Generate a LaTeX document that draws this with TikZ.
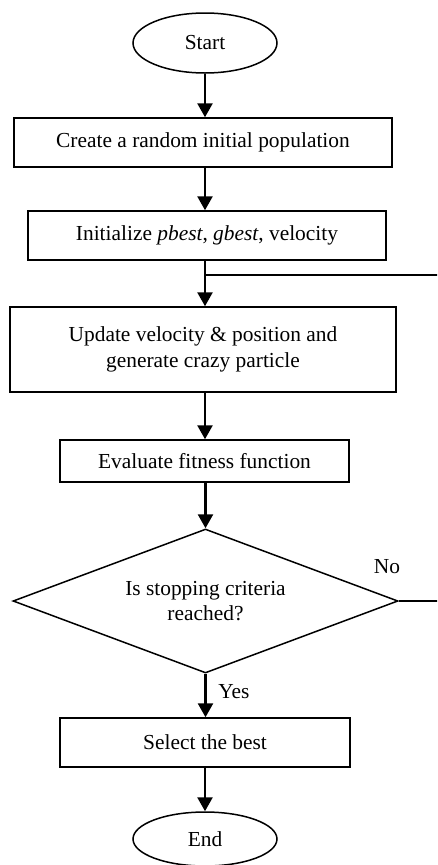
\documentclass[tikz,border=0pt]{standalone}
\usepackage{fontspec}
\setmainfont{Liberation Serif}
\usetikzlibrary{shapes.geometric,arrows.meta}
\begin{document}
\begin{tikzpicture}[x=1pt,y=-1pt,
  font=\fontsize{21.4}{25.5}\selectfont,
  box/.style={draw,line width=1.5pt,rectangle,inner sep=0pt,align=center},
  term/.style={draw,line width=1.5pt,ellipse,inner sep=0pt},
  dec/.style={draw,line width=1.5pt,diamond,inner sep=0pt},
  arr/.style={line width=2.6pt,-{Triangle[width=15pt,length=14pt]}},
  ln/.style={line width=1.6pt}]
\useasboundingbox (0,0) rectangle (437,865);
\clip (0,0) rectangle (437,865);
\node[term,minimum width=144pt,minimum height=60pt] (start) at (205,43) {Start};
\node[box,minimum width=378pt,minimum height=49pt] (b1) at (203,142.5) {Create a random initial population};
\node[box,minimum width=358pt,minimum height=49pt] (b2) at (207,235.5) {Initialize \textit{pbest}, \textit{gbest}, velocity};
\node[box,minimum width=386pt,minimum height=85pt] (b3) at (203,349.5) {Update velocity \& position and\\generate crazy particle};
\node[box,minimum width=289pt,minimum height=42pt] (b4) at (204.5,461) {Evaluate fitness function};
\node[dec,minimum width=385pt,minimum height=144pt] (d) at (205.5,601) {};
\node[align=center,inner sep=0pt] (dtext) at (d.center) {Is stopping criteria\\reached?};
\node[box,minimum width=290pt,minimum height=49pt] (b5) at (205,742.5) {Select the best};
\node[term,minimum width=144pt,minimum height=54pt] (end) at (205,839) {End};
\coordinate (join) at (205,275);
\node (no) at (387,567) {No};
\node (yes) at (234,692) {Yes};
\draw[arr] (start) -- (b1.north -| start);
\draw[arr] (b1.south -| start) -- (b2.north -| start);
\draw[arr] (b2.south -| join) -- (b3.north -| join);
\draw[arr] (b3.south -| join) -- (b4.north -| join);
\draw[arr] (b4.south -| d) -- (d.north);
\draw[arr] (d.south) -- (b5.north -| d);
\draw[arr] (b5.south -| end) -- (end);
\draw[ln] (d.east) -- ++(60,0) |- (join);
\end{tikzpicture}
\end{document}
